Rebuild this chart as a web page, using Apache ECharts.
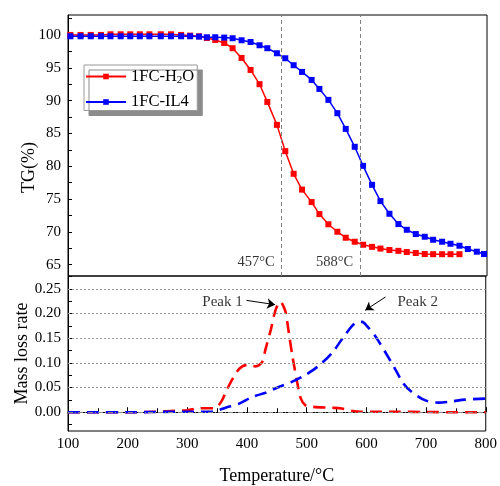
<!DOCTYPE html>
<html>
<head>
<meta charset="utf-8">
<script src="https://cdn.jsdelivr.net/npm/echarts@6/dist/echarts.min.js"></script>
<style>
  html, body { margin: 0; padding: 0; background: #fff; }
  #chart { width: 500px; height: 486px; }
</style>
</head>
<body>
<div id="chart"></div>
<script>
// Sampling temperatures (°C) of the TG curves
const temps = [104, 121, 138, 155, 171, 188, 204, 220, 236, 255, 272, 289, 304, 319,
  332, 346, 361, 375, 390, 405, 420, 433, 449, 463, 477, 491, 507, 520, 535, 550,
  564, 579, 593, 608, 622, 637, 652, 666, 681, 696, 710, 725, 739, 754, 768, 783, 795];

// TG (%) of 1FC-H2O
const tgH2O = [100.0, 100.0, 100.0, 100.0, 100.1, 100.1, 100.1, 100.1, 100.1, 100.1, 100.1, 100.0, 99.9, 99.8,
  99.54, 99.24, 98.78, 97.98, 96.50, 94.67, 92.50, 89.80, 86.30, 82.30,
  78.85, 76.44, 74.54, 72.71, 71.16, 70.02, 69.11, 68.50, 68.04, 67.72,
  67.46, 67.24, 67.11, 66.93, 66.78, 66.63, 66.6, 66.6, 66.6, 66.6];

// TG (%) of 1FC-IL4
const tgIL4 = [99.8, 99.8, 99.8, 99.8, 99.8, 99.8, 99.8, 99.8, 99.8, 99.8, 99.8, 99.8, 99.8, 99.75,
  99.65, 99.65, 99.6, 99.5, 99.19, 98.93, 98.43, 97.98, 97.21, 96.45,
  95.39, 94.37, 93.15, 91.78, 90.11, 88.08, 85.69, 82.96, 80.06, 77.17,
  74.69, 72.76, 71.19, 70.32, 69.67, 69.26, 68.80, 68.50, 68.19, 67.89,
  67.39, 66.98, 66.63];

// Mass loss rate curves
const dtgTempH2O = [100, 150, 200, 250, 280, 300, 320, 345, 356, 366, 376, 387, 400, 414, 425, 431,
  440, 448, 456, 462, 465, 470, 476, 484, 490, 498, 509, 543, 559, 575, 590, 650, 700, 750, 800];
const dtgH2O = [0, 0, 0, 0.001, 0.003, 0.004, 0.008, 0.008, 0.02, 0.045, 0.068, 0.088, 0.096, 0.093, 0.101, 0.128,
  0.168, 0.208, 0.224, 0.212, 0.201, 0.161, 0.114, 0.061, 0.028, 0.014, 0.011, 0.009, 0.0075, 0.003, 0.001, 0.001, 0.0005, 0, 0];

const dtgTempIL4 = [100, 200, 280, 340, 352, 364, 387, 409, 431, 453, 476, 498, 520, 543, 565,
  582, 593, 601, 615, 632, 648, 662, 676, 699, 721, 743, 765, 799];
const dtgIL4 = [0, 0, 0.001, 0.001, 0.004, 0.009, 0.0175, 0.031, 0.0395, 0.051, 0.062, 0.0756, 0.094, 0.121, 0.158,
  0.181, 0.183, 0.1745, 0.154, 0.121, 0.088, 0.058, 0.041, 0.024, 0.0195, 0.022, 0.0255, 0.0275];

// Characteristic temperatures (°C)
const peakTemps = [457, 588];

// Tick values
const tgTicks = [65, 67.5, 70, 72.5, 75, 77.5, 80, 82.5, 85, 87.5, 90, 92.5, 95, 97.5, 100, 102.5];
const tgLabels = [65, 70, 75, 80, 85, 90, 95, 100];
const rateTicks = [-0.025, 0, 0.025, 0.05, 0.075, 0.1, 0.125, 0.15, 0.175, 0.2, 0.225, 0.25, 0.275];
const rateLabels = [0, 0.05, 0.1, 0.15, 0.2, 0.25];

// Peak annotations: text anchor and arrow (from, to) in data units
const peakNotes = [
  { text: 'Peak 1', at: [359, 0.2226], from: [399, 0.2266], to: [447, 0.218] },
  { text: 'Peak 2', at: [686, 0.2234], from: [632, 0.2335], to: [598, 0.2066] }
];

const FONT = 'Liberation Serif, Times New Roman, serif';
const RED = '#ff0000';
const BLUE = '#0000ff';

const pairs = (xs, ys) => ys.map((y, i) => [xs[i], y]);

const chart = echarts.init(document.getElementById('chart'), null, { renderer: 'canvas' });

const gridBox = { left: 68, width: 419, show: true, borderColor: '#000', borderWidth: 1, backgroundColor: 'transparent' };

const option = {
  animation: false,
  textStyle: { fontFamily: FONT, color: '#000' },
  grid: [
    Object.assign({ top: 15, height: 261 }, gridBox),
    Object.assign({ top: 276, height: 157 }, gridBox)
  ],
  xAxis: [
    {
      type: 'value', gridIndex: 0, min: 100, max: 800, interval: 100,
      axisLine: { show: false }, axisTick: { show: false }, axisLabel: { show: false },
      splitLine: { show: false }
    },
    {
      type: 'value', gridIndex: 1, min: 100, max: 800, interval: 100,
      name: 'Temperature/°C', nameLocation: 'middle', nameGap: 36, nameMoveOverlap: false,
      nameTextStyle: { fontFamily: FONT, fontSize: 18, color: '#000' },
      axisLine: { lineStyle: { color: '#000', width: 1 } },
      axisTick: { inside: true, length: 5, lineStyle: { color: '#000' } },
      minorTick: { show: true, splitNumber: 2, length: 4, lineStyle: { color: '#000' } },
      axisLabel: { margin: 6, fontSize: 15, fontFamily: FONT, color: '#000' },
      splitLine: { show: false }
    }
  ],
  yAxis: [
    {
      type: 'value', gridIndex: 0, min: 63.28, max: 103.04,
      name: 'TG(%)', nameLocation: 'middle', nameGap: 30, nameMoveOverlap: false,
      nameTextStyle: { fontFamily: FONT, fontSize: 18, color: '#000', padding: [0, 44, 0, 0] },
      axisLine: { show: true, lineStyle: { color: '#000', width: 1 } },
      axisTick: { show: true, inside: true, length: 4, customValues: tgTicks, lineStyle: { color: '#000' } },
      axisLabel: { margin: 7, fontSize: 15, fontFamily: FONT, color: '#000', customValues: tgLabels },
      splitLine: { show: false }
    },
    {
      type: 'value', gridIndex: 1, min: -0.038, max: 0.276,
      name: 'Mass loss rate', nameLocation: 'middle', nameGap: 37, nameMoveOverlap: false,
      nameTextStyle: { fontFamily: FONT, fontSize: 18, color: '#000' },
      axisLine: { show: true, lineStyle: { color: '#000', width: 1 } },
      axisTick: { show: true, inside: true, length: 4, customValues: rateTicks, lineStyle: { color: '#000' } },
      axisLabel: {
        margin: 7, fontSize: 15, fontFamily: FONT, color: '#000', customValues: rateLabels,
        formatter: v => v.toFixed(2)
      },
      splitLine: { show: false }
    }
  ],
  legend: {
    orient: 'vertical', left: 84, top: 65,
    data: ['1FC-H2O', '1FC-IL4'],
    itemWidth: 40, itemHeight: 7, itemGap: 8,
    padding: [3, 3, 0, 1],
    backgroundColor: '#fff', borderColor: '#999', borderWidth: 1,
    shadowColor: '#8c8c8c', shadowBlur: 0, shadowOffsetX: 5, shadowOffsetY: 5,
    formatter: name => name === '1FC-H2O' ? '{t|1FC-H}{s|2}{t|O}' : '{t|' + name + '}',
    textStyle: {
      fontFamily: FONT, fontSize: 16.5, color: '#000',
      rich: {
        t: { fontFamily: FONT, fontSize: 16.5, lineHeight: 18, color: '#000' },
        s: { fontFamily: FONT, fontSize: 11, lineHeight: 11, verticalAlign: 'bottom', color: '#000' }
      }
    }
  },
  series: [
    // vertical guide lines at the characteristic temperatures
    {
      type: 'line', xAxisIndex: 0, yAxisIndex: 0, data: pairs(temps, tgIL4),
      showSymbol: false, lineStyle: { opacity: 0 }, silent: true, z: 1, legendHoverLink: false,
      markLine: {
        silent: true, symbol: 'none', label: { show: false },
        lineStyle: { color: '#808080', type: [4, 3], width: 1 },
        data: peakTemps.map(t => ({ xAxis: t }))
      }
    },
    {
      name: '1FC-H2O', type: 'line', xAxisIndex: 0, yAxisIndex: 0,
      data: pairs(temps, tgH2O),
      symbol: 'rect', symbolSize: 6, showAllSymbol: true,
      itemStyle: { color: RED }, lineStyle: { color: RED, width: 1.5 }, z: 3
    },
    {
      name: '1FC-IL4', type: 'line', xAxisIndex: 0, yAxisIndex: 0,
      data: pairs(temps, tgIL4),
      symbol: 'rect', symbolSize: 6, showAllSymbol: true,
      itemStyle: { color: BLUE }, lineStyle: { color: BLUE, width: 1.5 }, z: 4
    },
    // temperature labels beside the guide lines
    {
      type: 'scatter', xAxisIndex: 0, yAxisIndex: 0, symbolSize: 0, silent: true,
      data: peakTemps.map(t => [t, 65.45]),
      label: {
        show: true, position: 'left', distance: 7,
        formatter: p => p.value[0] + '°C',
        fontFamily: FONT, fontSize: 14.5, color: '#000'
      }
    },
    // horizontal reference lines of the lower panel
    {
      type: 'line', xAxisIndex: 1, yAxisIndex: 1, data: pairs(dtgTempH2O, dtgH2O),
      showSymbol: false, lineStyle: { opacity: 0 }, silent: true, z: 1,
      markLine: {
        silent: true, symbol: 'none', label: { show: false },
        data: rateLabels.map(v => ({
          yAxis: v,
          lineStyle: v === 0
            ? { color: '#8a8a8a', type: [5, 2, 1, 2], width: 1 }
            : { color: '#9a9a9a', type: [2, 2], width: 1 }
        }))
      }
    },
    {
      type: 'line', xAxisIndex: 1, yAxisIndex: 1,
      data: pairs(dtgTempH2O, dtgH2O), smooth: 0.3, showSymbol: false,
      lineStyle: { color: RED, width: 2.6, type: [12, 7] }, z: 3
    },
    {
      type: 'line', xAxisIndex: 1, yAxisIndex: 1,
      data: pairs(dtgTempIL4, dtgIL4), smooth: 0.3, showSymbol: false,
      lineStyle: { color: BLUE, width: 2.6, type: [12, 7] }, z: 3
    },
    // peak annotations
    {
      type: 'scatter', xAxisIndex: 1, yAxisIndex: 1, symbolSize: 0, silent: true, z: 5,
      data: peakNotes.map(n => ({ value: n.at, name: n.text })),
      label: {
        show: true, position: 'inside', formatter: p => p.name,
        fontFamily: FONT, fontSize: 15, color: '#000'
      },
      markLine: {
        silent: true, symbol: ['none', 'arrow'], symbolSize: 8, label: { show: false },
        itemStyle: { color: '#000' },
        lineStyle: { color: '#000', type: 'solid', width: 1 },
        data: peakNotes.map(n => [{ coord: n.from }, { coord: n.to }])
      }
    }
  ]
};

chart.setOption(option);
</script>
</body>
</html>
